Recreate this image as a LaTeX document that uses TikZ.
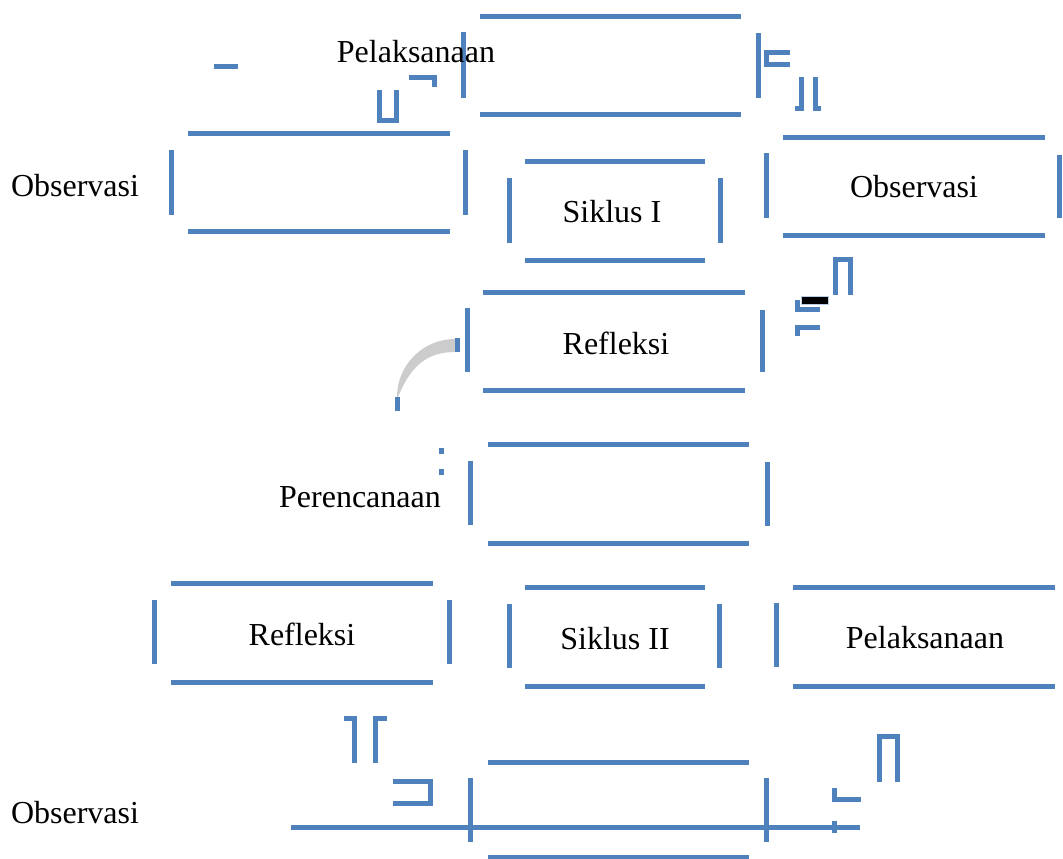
\documentclass[tikz,border=0pt]{standalone}
\usepackage{fontspec}
\setmainfont{Liberation Serif}
\definecolor{ob}{HTML}{4F81BD}
\definecolor{arcgray}{HTML}{CCCCCC}
\tikzset{
  bar/.style={line width=5pt, draw=ob, line cap=butt},
  lbl/.style={inner sep=0pt, font=\fontsize{32}{38}\selectfont, text=black},
}
\begin{document}
\begin{tikzpicture}[x=1pt,y=-1pt]
\useasboundingbox[fill=white] (0,0) rectangle (1063,859);

% ---- top Pelaksanaan box
\draw[bar] (480,17) -- (741,17);
\draw[bar] (480,114) -- (741,114);
\draw[bar] (463,32) -- (463,98);
\draw[bar] (758,33) -- (758,98);
% fragments near top
\draw[bar] (214,67) -- (238,67);
\draw[bar] (379,90) -- (379,120) -- (396,120) -- (396,90);
\draw[bar] (409,78) -- (434,78) -- (434,87);
\draw[bar] (790,53) -- (766,53) -- (766,65) -- (790,65);
\draw[bar] (795,108) -- (801,108) -- (801,77);
\draw[bar] (815,77) -- (815,108) -- (821,108);

% ---- Observasi left box
\draw[bar] (188,133) -- (450,133);
\draw[bar] (188,231) -- (450,231);
\draw[bar] (171,150) -- (171,215);
\draw[bar] (465,150) -- (465,215);

% ---- Siklus I box
\draw[bar] (525,161) -- (705,161);
\draw[bar] (525,260) -- (705,260);
\draw[bar] (509,178) -- (509,243);
\draw[bar] (720,178) -- (720,243);

% ---- Observasi right box
\draw[bar] (783,137) -- (1045,137);
\draw[bar] (783,235) -- (1045,235);
\draw[bar] (766,153) -- (766,218);
\draw[bar] (1059,155) -- (1059,218);

% ---- fragments right of Refleksi
\draw[bar] (835,295) -- (835,259) -- (850,259) -- (850,295);
\draw[bar] (797,300) -- (797,309) -- (820,309);
\draw[bar] (797,336) -- (797,327) -- (820,327);
\draw[draw=ob!40, line width=1pt, fill=black] (801,296) rectangle (828,304);

% ---- Refleksi box (Siklus I)
\draw[bar] (483,292) -- (745,292);
\draw[bar] (483,390) -- (745,390);
\draw[bar] (467,308) -- (467,372);
\draw[bar] (762,310) -- (762,372);

% ---- gray arc
\fill[arcgray] (397,397) .. controls (397,365) and (423,339) .. (455,339)
  -- (455,352) .. controls (425,352) and (410,368) .. (398,397) -- cycle;
\draw[bar] (457,338) -- (457,352);
\draw[bar] (397,397) -- (397,411);
\draw[bar] (441,448) -- (441,454);
\draw[bar] (441,469) -- (441,475);

% ---- Perencanaan box
\draw[bar] (488,444) -- (749,444);
\draw[bar] (488,543) -- (749,543);
\draw[bar] (470,461) -- (470,525);
\draw[bar] (767,462) -- (767,526);

% ---- Siklus II row
\draw[bar] (171,583) -- (433,583);
\draw[bar] (171,682) -- (433,682);
\draw[bar] (154,600) -- (154,664);
\draw[bar] (449,600) -- (449,664);

\draw[bar] (525,587) -- (705,587);
\draw[bar] (525,686) -- (705,686);
\draw[bar] (509,604) -- (509,668);
\draw[bar] (719,604) -- (719,668);

\draw[bar] (793,587) -- (1055,587);
\draw[bar] (793,686) -- (1055,686);
\draw[bar] (776,603) -- (776,667);

% ---- fragments bottom
\draw[bar] (344,718) -- (354,718) -- (354,763);
\draw[bar] (375,763) -- (375,718) -- (387,718);
\draw[bar] (393,781) -- (430,781) -- (430,803) -- (393,803);
\draw[bar] (879,782) -- (879,736) -- (897,736) -- (897,782);
\draw[bar] (834,788) -- (834,799) -- (861,799);

% ---- bottom Observasi box
\draw[bar] (488,762) -- (749,762);
\draw[bar] (488,857) -- (749,857);
\draw[bar] (470,778) -- (470,842);
\draw[bar] (766,778) -- (766,842);
\draw[bar] (291,827) -- (860,827);
\draw[bar] (834,821) -- (834,833);

% ---- labels
\node[lbl] (pel1) at (416,52) {Pelaksanaan};
\node[lbl] (obs1) at (75,186) {Observasi};
\node[lbl] (sik1) at (612,212) {Siklus I};
\node[lbl] (obs2) at (914,187) {Observasi};
\node[lbl] (ref1) at (616,343) {Refleksi};
\node[lbl] (per1) at (360,497) {Perencanaan};
\node[lbl] (ref2) at (302,634) {Refleksi};
\node[lbl] (sik2) at (615,639) {Siklus II};
\node[lbl] (pel2) at (925,638) {Pelaksanaan};
\node[lbl] (obs3) at (75,813) {Observasi};
\end{tikzpicture}
\end{document}
